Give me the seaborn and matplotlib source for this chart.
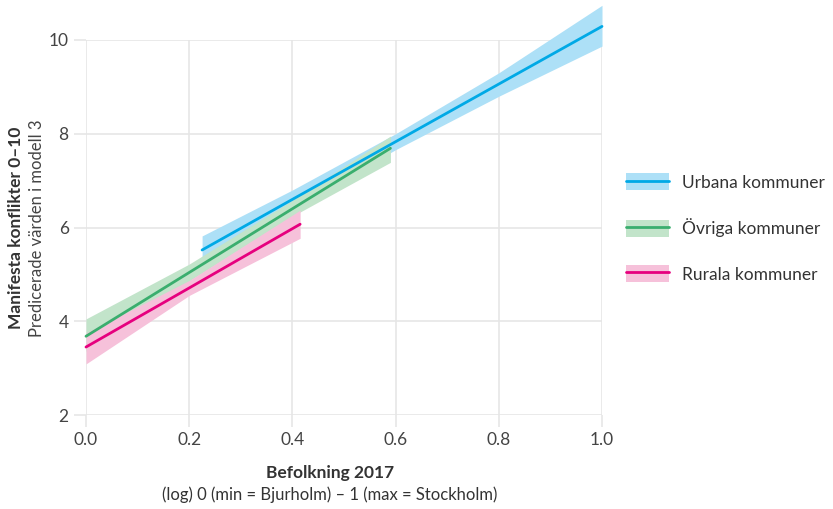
import matplotlib
matplotlib.use("Agg")
import matplotlib.pyplot as plt
import seaborn as sns
import pandas as pd
from matplotlib.patches import Patch
from matplotlib.lines import Line2D

# Data
groups = ["Urbana kommuner", "Övriga kommuner", "Rurala kommuner"]
urban_x = [0.225, 0.4, 0.6, 0.8, 1.0]
urban_y = [5.52, 6.60, 7.83, 9.06, 10.29]
urban_lo = [5.24, 6.40, 7.66, 8.80, 9.87]
urban_hi = [5.82, 6.80, 8.00, 9.30, 10.74]

ovr_x = [0.0, 0.2, 0.4, 0.59]
ovr_y = [3.68, 5.04, 6.40, 7.69]
ovr_lo = [3.36, 4.86, 6.24, 7.39]
ovr_hi = [4.05, 5.22, 6.58, 7.95]

rur_x = [0.0, 0.2, 0.415]
rur_y = [3.45, 4.71, 6.07]
rur_lo = [3.09, 4.55, 5.77]
rur_hi = [3.75, 4.87, 6.37]

line_colors = ["#00a9e6", "#3aae6e", "#e6007e"]
band_colors = ["#ade0f7", "#c2e4ca", "#f6c1da"]

xticks = [0.0, 0.2, 0.4, 0.6, 0.8, 1.0]
yticks = [2, 4, 6, 8, 10]

sns.set_theme(style="white")
plt.rcParams["font.family"] = ["Lato", "DejaVu Sans"]

fig = plt.figure(figsize=(8.33, 5.09), dpi=100)
ax = fig.add_axes([86/833, 1-415/509, (602-86)/833, (415-40)/509])

series = [(urban_x, urban_y, urban_lo, urban_hi),
          (ovr_x, ovr_y, ovr_lo, ovr_hi),
          (rur_x, rur_y, rur_lo, rur_hi)]

for (xs, ys, lo, hi), bc in zip(series, band_colors):
    ax.fill_between(xs, lo, hi, color=bc, lw=0, clip_on=False, zorder=2)

rows = []
for g, (xs, ys, lo, hi) in zip(groups, series):
    for x, y in zip(xs, ys):
        rows.append({"x": x, "y": y, "grupp": g})
df = pd.DataFrame(rows)
sns.lineplot(data=df, x="x", y="y", hue="grupp", palette=dict(zip(groups, line_colors)),
             linewidth=2, ax=ax, legend=False, zorder=3)
for l in ax.lines:
    l.set_clip_on(False)

ax.set_xlim(0, 1)
ax.set_ylim(2, 10)
ax.set_xticks(xticks)
ax.set_xticklabels([f"{v:.1f}" for v in xticks])
ax.set_yticks(yticks)
ax.set_yticklabels([str(v) for v in yticks])
ax.grid(True, color="#e6e6e6", lw=1.2, zorder=0)
ax.set_axisbelow(True)
for s in ax.spines.values():
    s.set_visible(False)
ax.tick_params(axis="both", length=8.5, width=1.2, color="#e6e6e6", labelsize=12.5,
               labelcolor="#444444", pad=4, bottom=True, left=True)

ax.set_xlabel("")
ax.set_ylabel("")
fig.text(330/833, 1-473/509, "Befolkning 2017", ha="center", va="center",
         fontsize=12.5, fontweight="bold", color="#333333")
fig.text(330/833, 1-495/509, "(log) 0 (min = Bjurholm) – 1 (max = Stockholm)",
         ha="center", va="center", fontsize=12, color="#333333")
fig.text(16/833, 1-228/509, "Manifesta konflikter 0–10", ha="center", va="center",
         rotation=90, fontsize=12.5, fontweight="bold", color="#333333")
fig.text(37/833, 1-228/509, "Predicerade värden i modell 3", ha="center", va="center",
         rotation=90, fontsize=12, color="#444444")

handles = [(Patch(facecolor=bc, edgecolor="none"), Line2D([], [], color=lc, lw=2))
           for bc, lc in zip(band_colors, line_colors)]
leg = fig.legend(handles, groups, loc="center left", bbox_to_anchor=(626/833, 1-228/509),
                 frameon=False, fontsize=12.5, handlelength=2.45, handleheight=1.15,
                 labelspacing=1.6, handletextpad=0.75, borderpad=0, borderaxespad=0,
                 labelcolor="#333333")

fig.savefig("out.png", dpi=100)
